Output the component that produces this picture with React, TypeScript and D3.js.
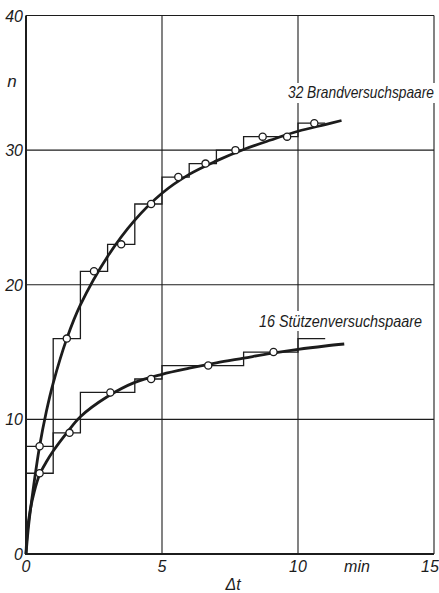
import React, { useLayoutEffect, useRef, useState } from "react";
import * as d3 from "d3";

// ---- data ----
const xTicks = [0, 5, 10, 15];
const yTicks = [0, 10, 20, 30, 40];

// staircase (step start t, n)
const brandStepT = [0, 1, 2, 3, 4, 5, 6, 7, 8, 10, 11];
const brandStepN = [8, 16, 21, 23, 26, 28, 29, 30, 31, 32, 32];
const stuetzeStepT = [0, 1, 2, 4, 5, 8, 10, 11];
const stuetzeStepN = [6, 9, 12, 13, 14, 15, 16, 16];

// measured points (circles)
const brandPtT = [0.5, 1.5, 2.5, 3.5, 4.6, 5.6, 6.6, 7.7, 8.7, 9.6, 10.6];
const brandPtN = [8, 16, 21, 23, 26, 28, 29, 30, 31, 31, 32];
const stuetzePtT = [0.5, 1.6, 3.1, 4.6, 6.7, 9.1];
const stuetzePtN = [6, 9, 12, 13, 14, 15];

// fitted curves
const brandCurveT = [0, 0.1, 0.25, 0.5, 0.75, 1, 1.5, 2, 3, 4, 5, 6, 7, 8, 9, 10, 11, 11.6];
const brandCurveN = [0, 2.2, 4.6, 8, 10.6, 12.7, 16, 18.5, 22.1, 24.8, 26.8, 28.2, 29.2, 30.05, 30.75, 31.4, 31.9, 32.2];
const stuetzeCurveT = [0, 0.05, 0.15, 0.3, 0.5, 0.75, 1, 1.5, 2, 3, 4, 5, 6, 7, 8, 9, 10, 11, 11.7];
const stuetzeCurveN = [0, 1.7, 3.2, 4.6, 5.9, 6.85, 7.65, 9.0, 10.2, 11.7, 12.75, 13.35, 13.8, 14.2, 14.55, 14.9, 15.2, 15.45, 15.6];

const labelBrand = "32 Brandversuchspaare";
const labelStuetze = "16 Stützenversuchspaare";

const W = 439;
const H = 593;
const FONT = "'Liberation Sans', Arial, sans-serif";
const ink = "#1c1c1c";

function FitText({ x, y, width, children }: { x: number; y: number; width: number; children: string }) {
  const ref = useRef<SVGTextElement>(null);
  const [sx, setSx] = useState(0.85);
  useLayoutEffect(() => {
    if (ref.current) {
      const w = ref.current.getComputedTextLength();
      if (w > 0) setSx(width / w);
    }
  }, [width, children]);
  return (
    <text
      ref={ref}
      transform={`translate(${x},${y}) scale(${sx},1)`}
      fontSize={16}
      fontStyle="italic"
      fill={ink}
    >
      {children}
    </text>
  );
}

export default function App() {
  const x = d3.scaleLinear().domain([0, 15]).range([26, 434]);
  const y = d3.scaleLinear().domain([0, 40]).range([554, 15.5]);

  const zip = (a: number[], b: number[]) => a.map((v, i) => [v, b[i]] as [number, number]);

  const stepLine = d3
    .line<[number, number]>()
    .x((d) => x(d[0]))
    .y((d) => y(d[1]))
    .curve(d3.curveStepAfter);
  const smooth = d3
    .line<[number, number]>()
    .x((d) => x(d[0]))
    .y((d) => y(d[1]))
    .curve(d3.curveCatmullRom.alpha(0.5));

  return (
    <svg
      width={W}
      height={H}
      style={{ position: "absolute", left: 0, top: 0, background: "#fff" }}
      fontFamily={FONT}
    >
      <rect x={0} y={0} width={W} height={H} fill="#fff" />
      {/* grid */}
      {xTicks.slice(1).map((t) => (
        <line key={"gx" + t} x1={x(t)} x2={x(t)} y1={y(0)} y2={y(40)} stroke={ink} strokeWidth={1.1} />
      ))}
      {yTicks.slice(1).map((t) => (
        <line key={"gy" + t} x1={x(0)} x2={x(15)} y1={y(t)} y2={y(t)} stroke={ink} strokeWidth={1.1} />
      ))}

      {/* staircases */}
      <path d={stepLine(zip(brandStepT, brandStepN)) || ""} fill="none" stroke={ink} strokeWidth={1.3} />
      <path d={stepLine(zip(stuetzeStepT, stuetzeStepN)) || ""} fill="none" stroke={ink} strokeWidth={1.3} />

      {/* curves */}
      <path d={smooth(zip(brandCurveT, brandCurveN)) || ""} fill="none" stroke={ink} strokeWidth={2.8} />
      <path d={smooth(zip(stuetzeCurveT, stuetzeCurveN)) || ""} fill="none" stroke={ink} strokeWidth={2.8} />

      {/* points */}
      {zip(brandPtT, brandPtN).map((d, i) => (
        <circle key={"b" + i} cx={x(d[0])} cy={y(d[1])} r={3.6} fill="#fff" stroke={ink} strokeWidth={1.3} />
      ))}
      {zip(stuetzePtT, stuetzePtN).map((d, i) => (
        <circle key={"s" + i} cx={x(d[0])} cy={y(d[1])} r={3.6} fill="#fff" stroke={ink} strokeWidth={1.3} />
      ))}

      {/* axes (left + bottom, heavier) */}
      <line x1={x(0)} x2={x(0)} y1={y(0) + 1} y2={y(40)} stroke={ink} strokeWidth={2} />
      <line x1={x(0) - 1} x2={x(15)} y1={y(0)} y2={y(0)} stroke={ink} strokeWidth={2} />

      {/* series labels with white background */}
      <rect x={286} y={83} width={151} height={20} fill="#fff" />
      <FitText x={288} y={98} width={146}>
        {labelBrand}
      </FitText>
      <rect x={256} y={311} width={170} height={20} fill="#fff" />
      <FitText x={259} y={327} width={163}>
        {labelStuetze}
      </FitText>

      {/* tick labels */}
      {yTicks.map((t) => (
        <text key={"ty" + t} x={23} y={y(t) + 6} fontSize={16} fontStyle="italic" textAnchor="end" fill={ink}>
          {t}
        </text>
      ))}
      {xTicks.map((t) => (
        <text
          key={"tx" + t}
          x={t === 15 ? x(t) - 4 : x(t)}
          y={572}
          fontSize={16}
          fontStyle="italic"
          textAnchor="middle"
          fill={ink}
        >
          {t}
        </text>
      ))}
      <text x={357} y={572} fontSize={16} fontStyle="italic" textAnchor="middle" fill={ink}>
        min
      </text>
      <text x={233} y={590} fontSize={16} fontStyle="italic" textAnchor="middle" fill={ink}>
        Δt
      </text>
      <text x={12} y={87} fontSize={17} fontStyle="italic" textAnchor="middle" fill={ink}>
        n
      </text>
    </svg>
  );
}
